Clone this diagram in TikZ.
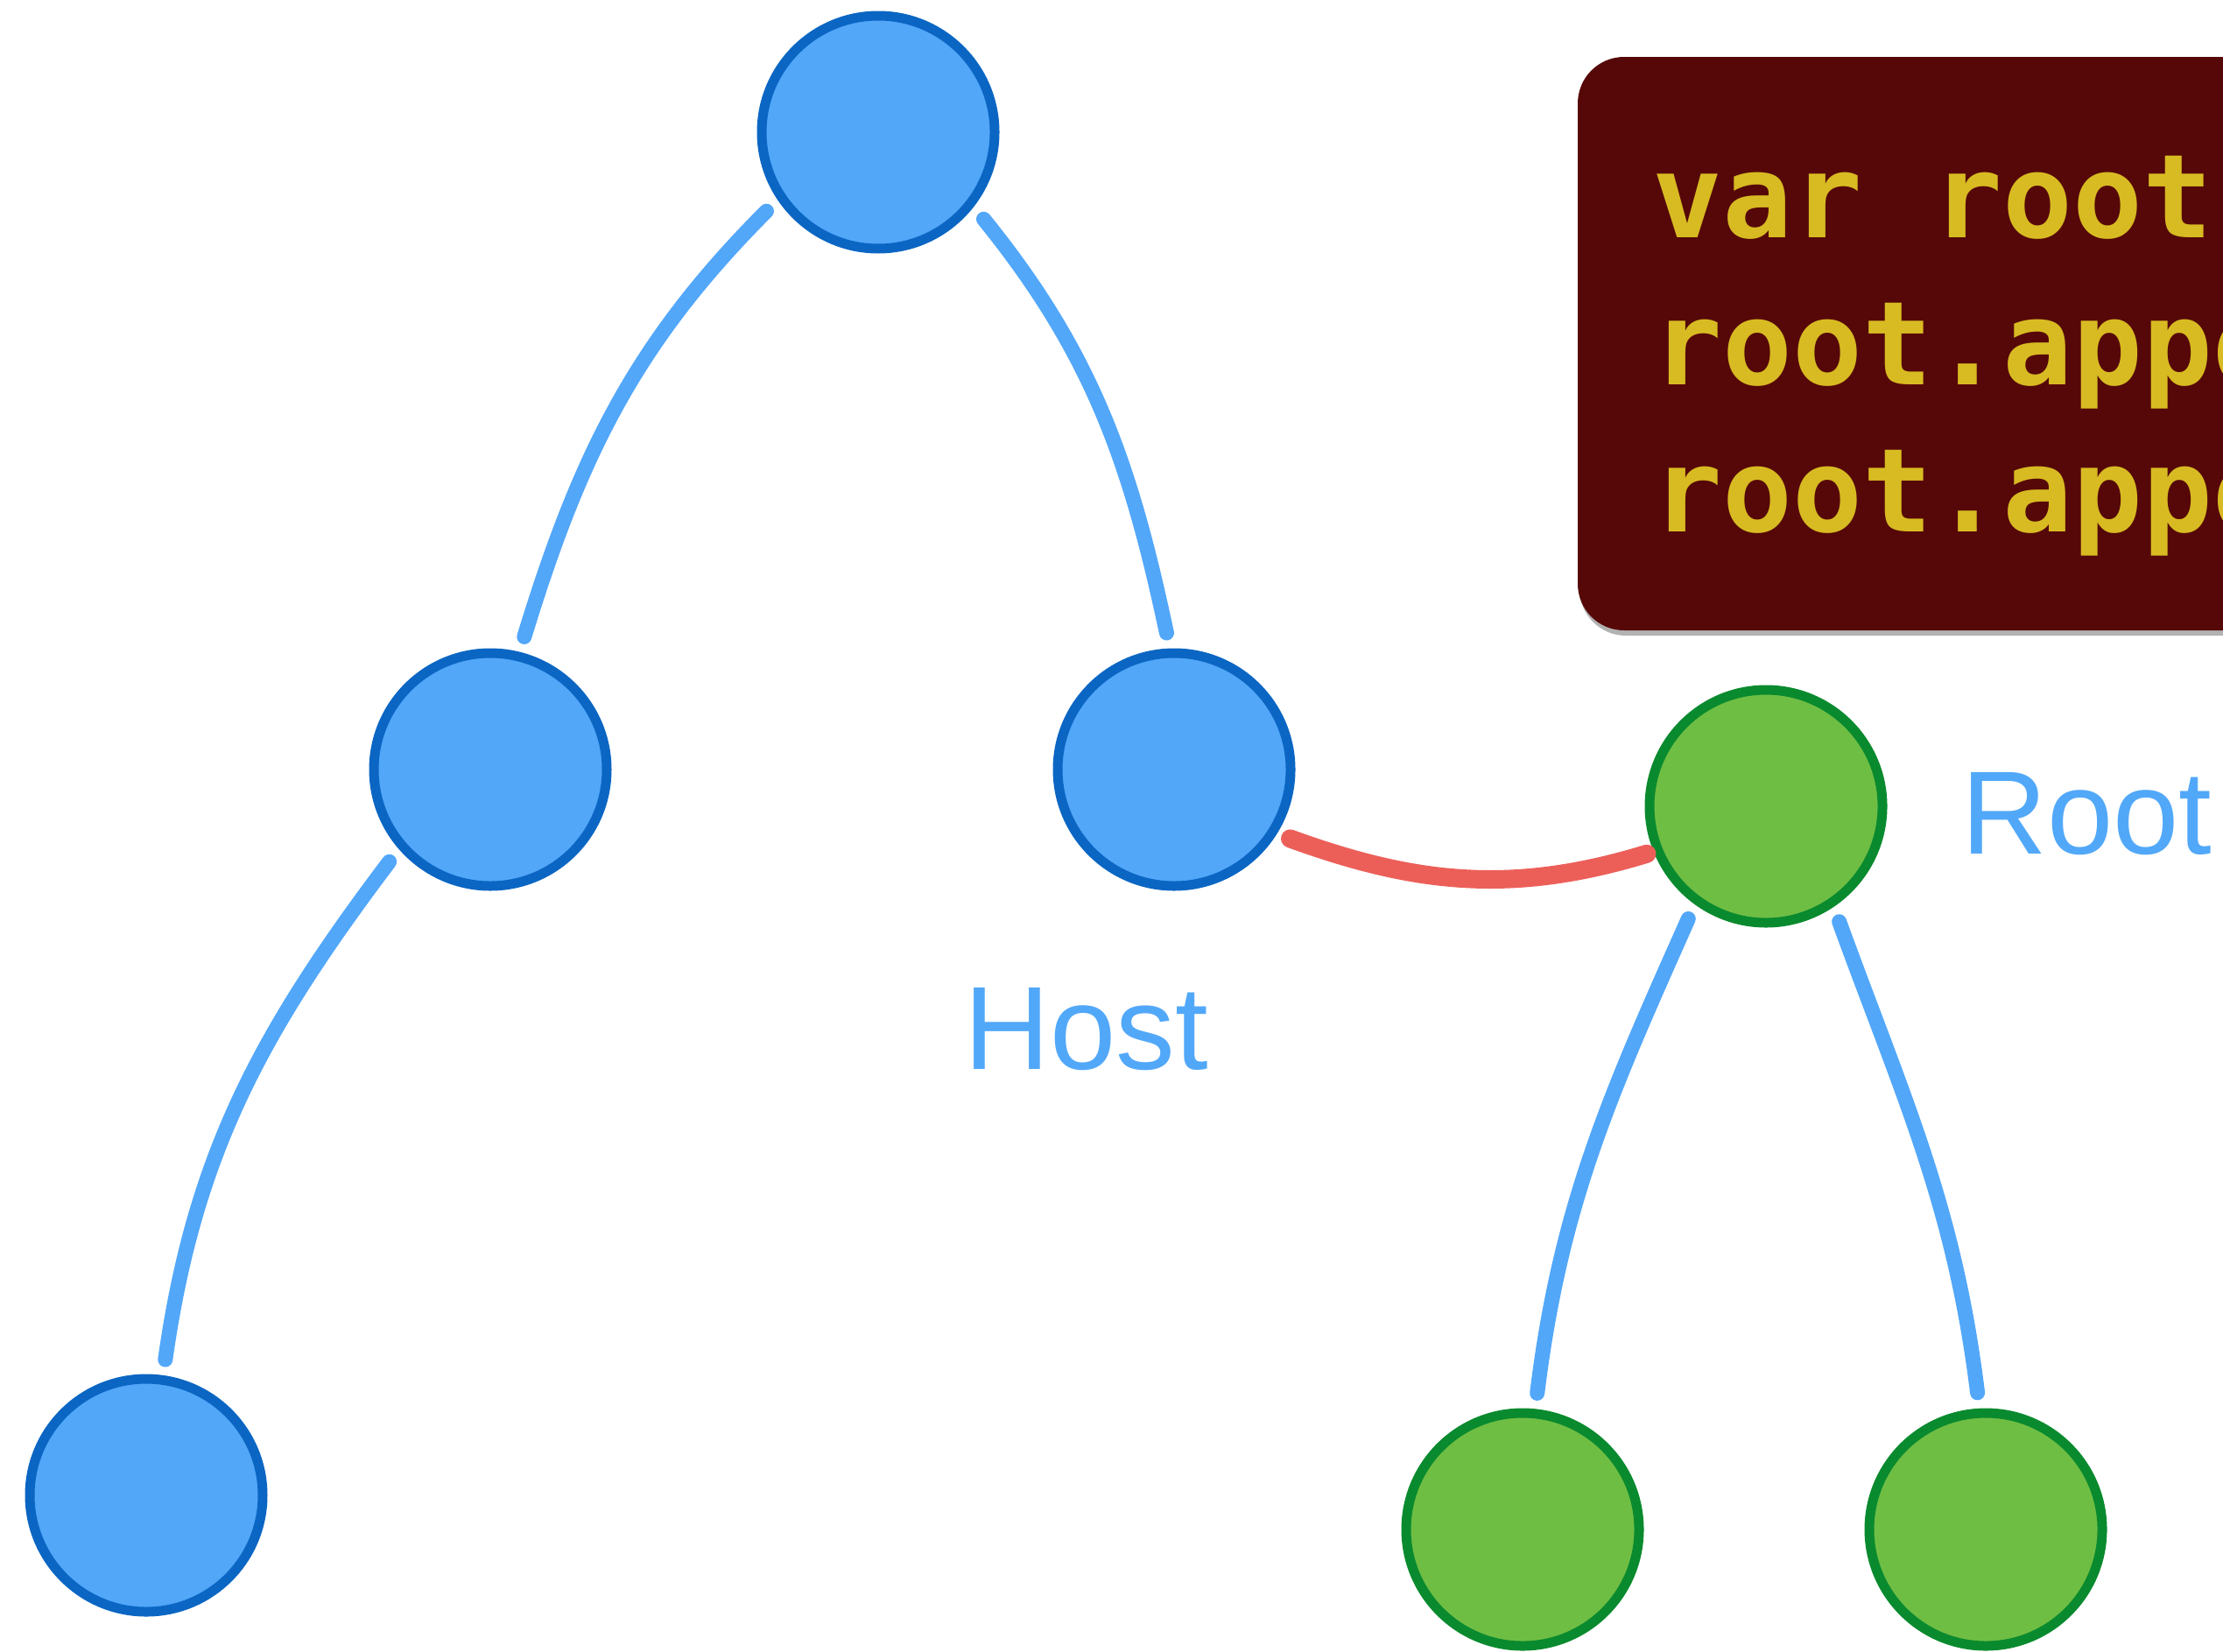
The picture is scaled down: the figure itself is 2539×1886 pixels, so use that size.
\documentclass[tikz,border=0pt]{standalone}
\usepackage{fontspec}
\setmainfont{Liberation Sans}
\newfontfamily\codefont{DejaVu Sans Mono}
\usetikzlibrary{shadows}
\definecolor{nodeblue}{HTML}{52A7F9}
\definecolor{borderblue}{HTML}{0B66C3}
\definecolor{nodegreen}{HTML}{6FBE44}
\definecolor{bordergreen}{HTML}{0A8A2E}
\definecolor{linkred}{HTML}{EC5F59}
\definecolor{codebg}{HTML}{560808}
\definecolor{codefg}{HTML}{D8BB22}
\definecolor{labelblue}{HTML}{52A8F8}
\begin{document}
\begin{tikzpicture}[x=0.1mm,y=-0.1mm,
  hostnode/.style={circle, fill=nodeblue, draw=borderblue, line width=1.1mm, minimum size=26.6mm, inner sep=0pt},
  shadownode/.style={circle, fill=nodegreen, draw=bordergreen, line width=1.1mm, minimum size=26.6mm, inner sep=0pt},
  treeedge/.style={draw=nodeblue, line width=1.7mm, line cap=round, shorten <=1.8mm, shorten >=1.8mm},
  linkedge/.style={draw=linkred, line width=2.1mm, line cap=round, shorten <=1.6mm, shorten >=0.8mm},
  treelabel/.style={text=labelblue, font=\fontsize{38.5}{46}\selectfont, inner sep=0pt, anchor=base west},
  codeline/.style={text=codefg, font=\codefont\bfseries\fontsize{37.8}{47.8}\selectfont, inner sep=0pt, anchor=base west},
  codebox/.style={fill=codebg, rounded corners=5.3mm, drop shadow={shadow xshift=0.2mm, shadow yshift=-0.6mm, opacity=0.3, fill=black}}
]
\useasboundingbox (0,0) rectangle (2539,1886);
\clip (0,0) rectangle (2539,1886);

% code box
\path[codebox] (1802,65) rectangle (2720,720);
\node[codeline] (code1) at (1887,271) {var root};
\node[codeline] (code2) at (1887,439) {root.appe};
\node[codeline] (code3) at (1887,607) {root.appe};

% host tree
\node[hostnode] (top) at (1003,151) {};
\node[hostnode] (ml) at (560,879) {};
\node[hostnode] (mr) at (1341,879) {};
\node[hostnode] (bl) at (167,1708) {};

% shadow tree
\node[shadownode] (groot) at (2017,921) {};
\node[shadownode] (gbl) at (1739,1747) {};
\node[shadownode] (gbr) at (2268,1747) {};

% labels
\node[treelabel] (hostlabel) at (1101,1221) {Host};
\node[treelabel] (rootlabel) at (2240,975) {Root};

% edges
\draw[treeedge] (top.214) to[out=225, in=73] (ml.76);
\draw[treeedge] (top.-38) to[out=-51, in=102] (mr.92);
\draw[treeedge] (ml.221) to[out=233, in=82] (bl.82);
\draw[treeedge] (groot.234) to[out=246, in=83] (gbl.84);
\draw[treeedge] (groot.-56) to[out=-70, in=97] (gbr.93);
\draw[linkedge] (mr.-32) to[out=-20, in=197] (groot.202);
\end{tikzpicture}
\end{document}
